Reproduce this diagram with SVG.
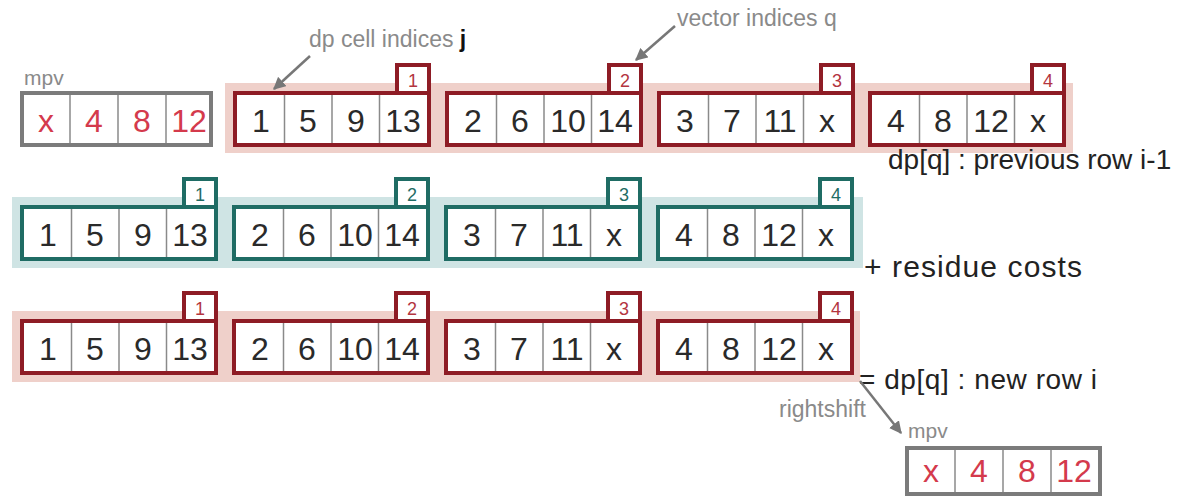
<svg xmlns="http://www.w3.org/2000/svg" width="1181" height="497" viewBox="0 0 1181 497">
  <style>
    text { font-family: "Liberation Sans", Arial, sans-serif; }
    .bg-red { fill: #efd0ca; }
    .bg-teal { fill: #cfe4e4; }
    .box-red { fill: #ffffff; stroke: #8e1c25; stroke-width: 4; }
    .box-teal { fill: #ffffff; stroke: #1f6c64; stroke-width: 4; }
    .box-grey { fill: #ffffff; stroke: #7b7b7b; stroke-width: 4; }
    .div { stroke: #8a8a8a; stroke-width: 1.5; }
    .num { font-size: 32px; fill: #2a2a2a; text-anchor: middle; }
    .num-red { font-size: 32px; fill: #d43a4c; text-anchor: middle; }
    .tab-red { font-size: 18px; fill: #b3353f; text-anchor: middle; }
    .tab-teal { font-size: 18px; fill: #1f6c64; text-anchor: middle; }
    .note { font-size: 23px; fill: #8a8a8a; }
    .small { font-size: 21px; fill: #8a8a8a; }
    .label { font-size: 28px; fill: #222222; }
    .conn { stroke: #777777; stroke-width: 2.5; fill: none; }
  </style>
  <defs>
    <marker id="arrow" viewBox="0 0 10 10" refX="9" refY="5" markerWidth="5" markerHeight="5" orient="auto">
      <path d="M0,0 L10,5 L0,10 z" fill="#777777"/>
    </marker>
    <!-- cell dividers of a 4-cell vector box; origin = outer top-left corner -->
    <g id="cells">
      <line class="div" x1="51.5" y1="4" x2="51.5" y2="52"/>
      <line class="div" x1="99" y1="4" x2="99" y2="52"/>
      <line class="div" x1="146.5" y1="4" x2="146.5" y2="52"/>
    </g>
  </defs>

  <!-- row backgrounds -->
  <rect class="bg-red" x="225" y="83" width="848" height="70"/>
  <rect class="bg-teal" x="12" y="197" width="851" height="71"/>
  <rect class="bg-red" x="12" y="311" width="848" height="71"/>

  <!-- previous-row mpv -->
  <g id="mpv-top">
    <text class="small" x="24" y="85">mpv</text>
    <rect class="box-grey" x="22" y="93" width="189" height="52"/>
    <line class="div" x1="70" y1="95" x2="70" y2="143"/>
    <line class="div" x1="118" y1="95" x2="118" y2="143"/>
    <line class="div" x1="166" y1="95" x2="166" y2="143"/>
    <text class="num-red" x="46" y="132">x</text>
    <text class="num-red" x="94" y="132">4</text>
    <text class="num-red" x="142" y="132">8</text>
    <text class="num-red" x="189" y="132">12</text>
  </g>

  <!-- row 1: dp[q] previous row -->
  <g id="prev-1" transform="translate(233,63)">
    <rect class="box-red" x="164" y="2" width="32" height="30"/>
    <text class="tab-red" x="180" y="24">1</text>
    <rect class="box-red" x="2" y="30" width="194" height="52"/>
    <use href="#cells" y="28"/>
    <text class="num" x="28" y="69">1</text><text class="num" x="75" y="69">5</text><text class="num" x="123" y="69">9</text><text class="num" x="170" y="69">13</text>
  </g>
  <g id="prev-2" transform="translate(445,63)">
    <rect class="box-red" x="164" y="2" width="32" height="30"/>
    <text class="tab-red" x="180" y="24">2</text>
    <rect class="box-red" x="2" y="30" width="194" height="52"/>
    <use href="#cells" y="28"/>
    <text class="num" x="28" y="69">2</text><text class="num" x="75" y="69">6</text><text class="num" x="123" y="69">10</text><text class="num" x="170" y="69">14</text>
  </g>
  <g id="prev-3" transform="translate(657,63)">
    <rect class="box-red" x="164" y="2" width="32" height="30"/>
    <text class="tab-red" x="180" y="24">3</text>
    <rect class="box-red" x="2" y="30" width="194" height="52"/>
    <use href="#cells" y="28"/>
    <text class="num" x="28" y="69">3</text><text class="num" x="75" y="69">7</text><text class="num" x="123" y="69">11</text><text class="num" x="170" y="69">x</text>
  </g>
  <g id="prev-4" transform="translate(868,63)">
    <rect class="box-red" x="164" y="2" width="32" height="30"/>
    <text class="tab-red" x="180" y="24">4</text>
    <rect class="box-red" x="2" y="30" width="194" height="52"/>
    <use href="#cells" y="28"/>
    <text class="num" x="28" y="69">4</text><text class="num" x="75" y="69">8</text><text class="num" x="123" y="69">12</text><text class="num" x="170" y="69">x</text>
  </g>
  <text class="label" x="888" y="169">dp[q] : previous row i-1</text>

  <!-- row 2: residue costs -->
  <g id="cost-1" transform="translate(20,177)">
    <rect class="box-teal" x="164" y="2" width="32" height="30"/>
    <text class="tab-teal" x="180" y="24">1</text>
    <rect class="box-teal" x="2" y="30" width="194" height="52"/>
    <use href="#cells" y="28"/>
    <text class="num" x="28" y="69">1</text><text class="num" x="75" y="69">5</text><text class="num" x="123" y="69">9</text><text class="num" x="170" y="69">13</text>
  </g>
  <g id="cost-2" transform="translate(232,177)">
    <rect class="box-teal" x="164" y="2" width="32" height="30"/>
    <text class="tab-teal" x="180" y="24">2</text>
    <rect class="box-teal" x="2" y="30" width="194" height="52"/>
    <use href="#cells" y="28"/>
    <text class="num" x="28" y="69">2</text><text class="num" x="75" y="69">6</text><text class="num" x="123" y="69">10</text><text class="num" x="170" y="69">14</text>
  </g>
  <g id="cost-3" transform="translate(444,177)">
    <rect class="box-teal" x="164" y="2" width="32" height="30"/>
    <text class="tab-teal" x="180" y="24">3</text>
    <rect class="box-teal" x="2" y="30" width="194" height="52"/>
    <use href="#cells" y="28"/>
    <text class="num" x="28" y="69">3</text><text class="num" x="75" y="69">7</text><text class="num" x="123" y="69">11</text><text class="num" x="170" y="69">x</text>
  </g>
  <g id="cost-4" transform="translate(656,177)">
    <rect class="box-teal" x="164" y="2" width="32" height="30"/>
    <text class="tab-teal" x="180" y="24">4</text>
    <rect class="box-teal" x="2" y="30" width="194" height="52"/>
    <use href="#cells" y="28"/>
    <text class="num" x="28" y="69">4</text><text class="num" x="75" y="69">8</text><text class="num" x="123" y="69">12</text><text class="num" x="170" y="69">x</text>
  </g>
  <text class="label" x="864" y="277" font-size="30" textLength="218" lengthAdjust="spacing" style="font-size:30px">+ residue costs</text>

  <!-- row 3: dp[q] new row -->
  <g id="new-1" transform="translate(20,291)">
    <rect class="box-red" x="164" y="2" width="32" height="30"/>
    <text class="tab-red" x="180" y="24">1</text>
    <rect class="box-red" x="2" y="30" width="194" height="52"/>
    <use href="#cells" y="28"/>
    <text class="num" x="28" y="69">1</text><text class="num" x="75" y="69">5</text><text class="num" x="123" y="69">9</text><text class="num" x="170" y="69">13</text>
  </g>
  <g id="new-2" transform="translate(232,291)">
    <rect class="box-red" x="164" y="2" width="32" height="30"/>
    <text class="tab-red" x="180" y="24">2</text>
    <rect class="box-red" x="2" y="30" width="194" height="52"/>
    <use href="#cells" y="28"/>
    <text class="num" x="28" y="69">2</text><text class="num" x="75" y="69">6</text><text class="num" x="123" y="69">10</text><text class="num" x="170" y="69">14</text>
  </g>
  <g id="new-3" transform="translate(444,291)">
    <rect class="box-red" x="164" y="2" width="32" height="30"/>
    <text class="tab-red" x="180" y="24">3</text>
    <rect class="box-red" x="2" y="30" width="194" height="52"/>
    <use href="#cells" y="28"/>
    <text class="num" x="28" y="69">3</text><text class="num" x="75" y="69">7</text><text class="num" x="123" y="69">11</text><text class="num" x="170" y="69">x</text>
  </g>
  <g id="new-4" transform="translate(656,291)">
    <rect class="box-red" x="164" y="2" width="32" height="30"/>
    <text class="tab-red" x="180" y="24">4</text>
    <rect class="box-red" x="2" y="30" width="194" height="52"/>
    <use href="#cells" y="28"/>
    <text class="num" x="28" y="69">4</text><text class="num" x="75" y="69">8</text><text class="num" x="123" y="69">12</text><text class="num" x="170" y="69">x</text>
  </g>
  <text class="label" x="859" y="389" textLength="238" lengthAdjust="spacing">= dp[q] : new row i</text>

  <!-- shifted mpv for the next row -->
  <g id="mpv-bottom">
    <text class="small" x="908" y="438">mpv</text>
    <rect class="box-grey" x="907" y="448" width="193" height="46"/>
    <line class="div" x1="955" y1="450" x2="955" y2="492"/>
    <line class="div" x1="1003" y1="450" x2="1003" y2="492"/>
    <line class="div" x1="1051" y1="450" x2="1051" y2="492"/>
    <text class="num-red" x="931" y="482">x</text>
    <text class="num-red" x="979" y="482">4</text>
    <text class="num-red" x="1027" y="482">8</text>
    <text class="num-red" x="1074" y="482">12</text>
  </g>

  <!-- annotations -->
  <text class="note" x="309" y="47">dp cell indices <tspan fill="#111111" font-weight="bold">j</tspan></text>
  <text class="note" x="677" y="26">vector indices q</text>
  <text class="note" x="779" y="417">rightshift</text>

  <g id="connectors">
    <line class="conn" x1="310" y1="56" x2="274" y2="89" marker-end="url(#arrow)"/>
    <line class="conn" x1="675" y1="26" x2="636" y2="60" marker-end="url(#arrow)"/>
    <line class="conn" x1="860" y1="381" x2="901" y2="433" marker-end="url(#arrow)"/>
  </g>
</svg>
